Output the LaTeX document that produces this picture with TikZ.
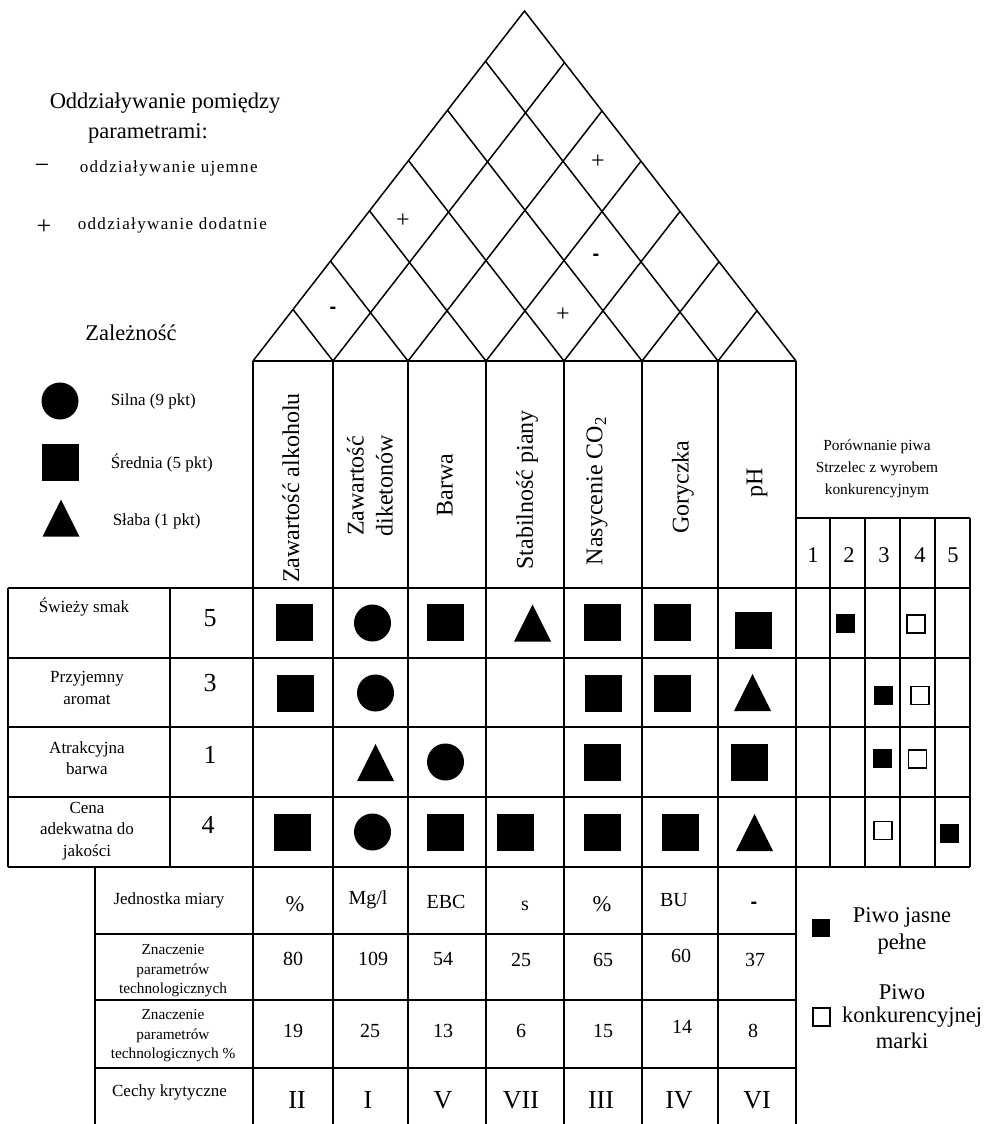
\documentclass[tikz,border=0pt]{standalone}
\usepackage{fontspec}
\setmainfont{Liberation Serif}
\newfontfamily\sansfnt{Liberation Sans}
\newcommand{\fsz}[2]{\fontsize{#1}{#2}\selectfont}
\newcommand{\Bsq}[2]{\fill ({#1-18.5},{#2-18.5}) rectangle ({#1+18.5},{#2+18.5});}
\newcommand{\Bci}[2]{\fill (#1,#2) circle (18.5pt);}
\newcommand{\Btr}[2]{\fill ({#1-18.5},{#2+18.5}) -- ({#1+18.5},{#2+18.5}) -- (#1,{#2-18.5}) -- cycle;}
\newcommand{\Fsq}[2]{\fill ({#1-9.5},{#2-9.5}) rectangle ({#1+9.5},{#2+9.5});}
\newcommand{\Osq}[2]{\draw[line width=1.3pt] ({#1-9},{#2-9}) rectangle ({#1+9},{#2+9});}
\begin{document}
\begin{tikzpicture}[x=1pt,y=-1pt,line width=1.5pt,
  tx/.style={inner sep=0pt,align=center},
  t15/.style={tx,font=\fsz{15.4}{22}},
  t17/.style={tx,font=\fsz{17}{21.5}},
  tsm/.style={tx,font=\fsz{15.3}{19.5}},
  tls/.style={tx,font=\fsz{17}{20}\addfontfeature{LetterSpace=8}},
  t20/.style={tx,font=\fsz{20}{24}},
  t22/.style={tx,font=\fsz{22.5}{27}},
  t24/.style={tx,font=\fsz{26}{29}},
  t26/.style={tx,font=\fsz{26}{30}},
  hd/.style={tx,font=\fsz{24}{29},rotate=90},
  sgn/.style={tx,font=\fsz{24}{24}},
  dsh/.style={tx,font=\sansfnt\bfseries\fsz{20}{20}}]
\useasboundingbox (0,0) rectangle (988,1124);

% ---- roof ----
\coordinate (L) at (253,361);
\coordinate (R) at (796,361);
\coordinate (A) at (524.5,11);
\draw (L) -- (A) -- (R);
\foreach \b in {333,408,486,564,642,718}{
  \draw ({(\b+253)/2},{361-1.2891*(\b-253)/2}) -- (\b,361) -- ({(\b+796)/2},{361-1.2891*(796-\b)/2});
}
\node[dsh] (s1) at (333,310) {-};
\node[sgn] (s2) at (403,221) {+};
\node[sgn] (s3) at (598,162) {+};
\node[dsh] (s4) at (596,257) {-};
\node[sgn] (s5) at (563,315) {+};

% ---- grid ----
\draw (L) -- (R);
\foreach \x in {253,333,408,486,564,642,718,796} \draw (\x,361) -- (\x,1124);
\draw (796,518) -- (970,518);
\foreach \x in {830,865,900,935,970} \draw (\x,518) -- (\x,867);
\foreach \y in {588,658,727,797,867} \draw (8,\y) -- (970,\y);
\draw (8,588) -- (8,867);
\draw (170,588) -- (170,867);
\draw (95,867) -- (95,1124);
\foreach \y in {934,1000,1068} \draw (95,\y) -- (796,\y);

% ---- column headers ----
\node[hd] (h1) at (291,488) {Zawartość alkoholu};
\node[hd] (h2) at (370,486) {Zawartość\\diketonów};
\node[hd] (h3) at (445,485) {Barwa};
\node[hd] (h4) at (527,490) {Stabilność piany};
\node[hd] (h5) at (597,491) {Nasycenie CO\textsubscript{2}};
\node[hd] (h6) at (683,487) {Goryczka};
\node[hd] (h7) at (757,483) {pH};

% ---- top-left legend ----
\node[t22,anchor=west] (ti1) at (49,103) {Oddziaływanie pomiędzy};
\node[t22] (ti2) at (148,133) {parametrami:};
\node[tx,font=\fsz{26}{26}] (mi) at (42,169) {−};
\node[tx,font=\fsz{26}{26}] (pl) at (44,227) {+};
\node[tls,anchor=west] (le1) at (79,168) {oddziaływanie ujemne};
\node[tls,anchor=west] (le2) at (77,225) {oddziaływanie dodatnie};

\node[t22] (za) at (131,333) {Zależność};
\Bci{60}{401}
\Bsq{60}{462}
\Btr{61}{518}
\node[t17,anchor=west] (lg1) at (110,401) {Silna (9 pkt)};
\node[t17,anchor=west] (lg2) at (110,463) {Średnia (5 pkt)};
\node[t17,anchor=west] (lg3) at (112,521) {Słaba (1 pkt)};

% ---- competition header ----
\node[t15] (cmp) at (877,469) {Porównanie piwa\\Strzelec z wyrobem\\konkurencyjnym};
\node[t22] (n1) at (813,555) {1};
\node[t22] (n2) at (849,555) {2};
\node[t22] (n3) at (884,555) {3};
\node[t22] (n4) at (920,555) {4};
\node[t22] (n5) at (953,555) {5};

% ---- rows ----
\node[t17] (r1) at (84,607) {Świeży smak};
\node[t17] (r2) at (87,688) {Przyjemny\\aromat};
\node[t17] (r3) at (87,758) {Atrakcyjna\\barwa};
\node[t17] (r4) at (87,831) {Cena\\adekwatna do\\jakości};
\node[t24] (i1) at (210,618) {5};
\node[t24] (i2) at (210,683) {3};
\node[t24] (i3) at (210,755) {1};
\node[t24] (i4) at (208,825) {4};

% row 1
\Bsq{294.5}{622.5} \Bci{372.5}{623} \Bsq{445.5}{622.5} \Btr{532.5}{623}
\Bsq{602.5}{622.5} \Bsq{672.5}{622.5} \Bsq{753.5}{630}
\Fsq{845.5}{623} \Osq{916}{624}
% row 2
\Bsq{295.5}{693} \Bci{375.5}{693} \Bsq{603.5}{693} \Bsq{672.5}{693} \Btr{752.5}{692.5}
\Fsq{883}{695.5} \Osq{920}{695.5}
% row 3
\Btr{375.5}{762.5} \Bci{445.5}{762} \Bsq{602.5}{762.5} \Bsq{749.5}{762.5}
\Fsq{882.5}{758.5} \Osq{917.5}{759}
% row 4
\Bsq{292.5}{832.5} \Bci{372.5}{832} \Bsq{445.5}{832.5} \Bsq{515.5}{832.5}
\Bsq{602.5}{832.5} \Bsq{680.5}{832.5} \Btr{754.5}{832.5}
\Osq{883}{830.5} \Fsq{949.5}{833.5}

% ---- bottom rows ----
\node[t17] (b1) at (169,900) {Jednostka miary};
\node[tsm] (b2) at (173,971) {Znaczenie\\parametrów\\technologicznych};
\node[tsm] (b3) at (173,1036) {Znaczenie\\parametrów\\technologicznych \%};
\node[t17] (b4) at (169.5,1092) {Cechy krytyczne};

\node[t22] (u1) at (295,904) {\%};
\node[t20] (u2) at (368,900) {Mg/l};
\node[t20] (u3) at (446,902) {EBC};
\node[t20] (u4) at (525,906) {s};
\node[t22] (u5) at (602,904) {\%};
\node[t20] (u6) at (674,900) {BU};
\node[dsh] (u7) at (754,905) {-};

\node[t20] (v1) at (293,959) {80};
\node[t20] (v2) at (373,959) {109};
\node[t20] (v3) at (443,959) {54};
\node[t20] (v4) at (521,960) {25};
\node[t20] (v5) at (603,960) {65};
\node[t20] (v6) at (681,956) {60};
\node[t20] (v7) at (755,960) {37};

\node[t20] (w1) at (293,1031) {19};
\node[t20] (w2) at (370,1031) {25};
\node[t20] (w3) at (443,1031) {13};
\node[t20] (w4) at (521,1031) {6};
\node[t20] (w5) at (603,1031) {15};
\node[t20] (w6) at (682,1027) {14};
\node[t20] (w7) at (753,1031) {8};

\node[t26] (k1) at (297,1100) {II};
\node[t26] (k2) at (368,1100) {I};
\node[t26] (k3) at (443,1100) {V};
\node[t26] (k4) at (521,1100) {VII};
\node[t26] (k5) at (601,1100) {III};
\node[t26] (k6) at (679,1100) {IV};
\node[t26] (k7) at (757,1100) {VI};

% ---- right legend ----
\fill (812,919) rectangle (830,937);
\node[t22] (pj) at (902,931) {Piwo jasne\\pełne};
\draw[line width=1.3pt] (813,1008) rectangle (830,1026);
\node[t22] (pk1) at (902,992) {Piwo};
\node[t22] (pk2) at (912,1017) {konkurencyjnej};
\node[t22] (pk3) at (902,1041) {marki};
\end{tikzpicture}
\end{document}
